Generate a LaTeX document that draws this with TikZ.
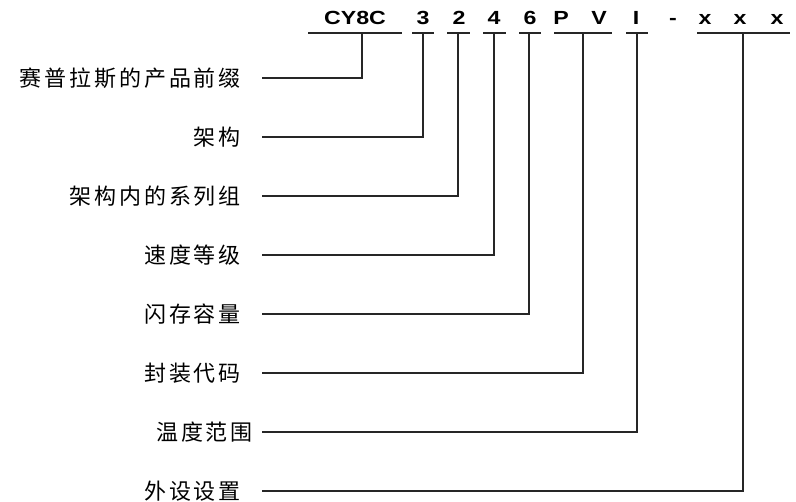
\documentclass[tikz,border=0pt]{standalone}
\usepackage{fontspec}
\usepackage{graphicx}
\setmainfont{Liberation Sans}
\newfontfamily\cjk[LetterSpace=13]{Noto Sans CJK SC}
\newcommand{\cdtxt}[1]{\scalebox{1.22}[1]{#1}}
\begin{document}
\begin{tikzpicture}[x=1pt,y=-1pt,
  lab/.style={font=\cjk\fontsize{22}{22}\selectfont, anchor=east, inner sep=0pt},
  code/.style={font=\bfseries\fontsize{19}{19}\selectfont, anchor=base, inner sep=0pt},
  uline/.style={line width=1.3pt, draw=black!85},
  conn/.style={line width=1.3pt, draw=black!85}]
\useasboundingbox (0,0) rectangle (796,502);
% code letters
\node[code] (cCY) at (355,25) {\cdtxt{CY8C}};
\node[code] (c3) at (423,25) {\cdtxt{3}};
\node[code] (c2) at (459,25) {\cdtxt{2}};
\node[code] (c4) at (494,25) {\cdtxt{4}};
\node[code] (c6) at (530,25) {\cdtxt{6}};
\node[code] (cP) at (561,25) {\cdtxt{P}};
\node[code] (cV) at (599,25) {\cdtxt{V}};
\node[code] (cI) at (636,25) {\cdtxt{I}};
\node[code] (cD) at (673,25) {\cdtxt{-}};
\node[code] (cx1) at (705,25) {\cdtxt{x}};
\node[code] (cx2) at (740,25) {\cdtxt{x}};
\node[code] (cx3) at (777,25) {\cdtxt{x}};
% underlines
\coordinate (a1) at (308,33); \coordinate (b1) at (402,33);
\coordinate (a2) at (412,33); \coordinate (b2) at (434,33);
\coordinate (a3) at (447,33); \coordinate (b3) at (470,33);
\coordinate (a4) at (483,33); \coordinate (b4) at (506,33);
\coordinate (a5) at (519,33); \coordinate (b5) at (541,33);
\coordinate (a6) at (554,33); \coordinate (b6) at (612,33);
\coordinate (a7) at (626,33); \coordinate (b7) at (648,33);
\coordinate (a8) at (697,33); \coordinate (b8) at (790,33);
\foreach \i in {1,...,8} { \draw[uline] (a\i) -- (b\i); }
% attach points on underlines
\coordinate (u1) at (362,33);
\coordinate (u2) at (423,33);
\coordinate (u3) at (458,33);
\coordinate (u4) at (494,33);
\coordinate (u5) at (529,33);
\coordinate (u6) at (583,33);
\coordinate (u7) at (637,33);
\coordinate (u8) at (743,33);
% labels
\node[lab] (l1) at (241,78) {赛普拉斯的产品前缀};
\node[lab] (l2) at (241,137) {架构};
\node[lab] (l3) at (241,196) {架构内的系列组};
\node[lab] (l4) at (241,255) {速度等级};
\node[lab] (l5) at (241,314) {闪存容量};
\node[lab] (l6) at (241,373) {封装代码};
\node[lab] (l7) at (253,432) {温度范围};
\node[lab] (l8) at (241,491) {外设设置};
% line starts
\coordinate (s1) at (262,78);
\coordinate (s2) at (262,137);
\coordinate (s3) at (262,196);
\coordinate (s4) at (262,255);
\coordinate (s5) at (262,314);
\coordinate (s6) at (262,373);
\coordinate (s7) at (262,432);
\coordinate (s8) at (262,491);
\foreach \i in {1,...,8} { \draw[conn] (s\i) -| (u\i); }
\end{tikzpicture}
\end{document}
